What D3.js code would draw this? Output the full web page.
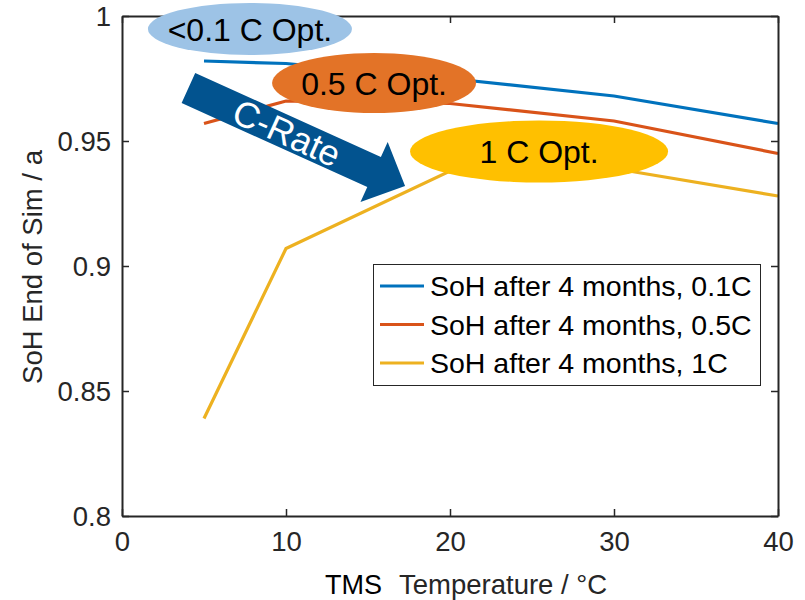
<!DOCTYPE html>
<html>
<head>
<meta charset="utf-8">
<script src="https://cdnjs.cloudflare.com/ajax/libs/d3/7.8.5/d3.min.js"></script>
<style>
  body { margin: 0; background: #fff; }
  svg { font-family: "Liberation Sans", Arial, sans-serif; }
</style>
</head>
<body>
<script>
// data
var temps = [5, 10, 20, 30, 40];
var soh01 = [0.982, 0.981, 0.975, 0.968, 0.957];
var soh05 = [0.957, 0.966, 0.965, 0.958, 0.945];
var soh1  = [0.839, 0.907, 0.938, 0.939, 0.928];

var seriesNames = ["SoH after 4 months, 0.1C", "SoH after 4 months, 0.5C", "SoH after 4 months, 1C"];
var xTicks = [0, 10, 20, 30, 40];
var yTicks = [0.8, 0.85, 0.9, 0.95, 1];

var w = 805, h = 600;
var pLeft = 122, pRight = 778, pTop = 16, pBottom = 516;
var colors = ["#0072bd", "#d95319", "#edb120"];

var svg = d3.select("body").append("svg")
    .attr("width", w)
    .attr("height", h);

var x = d3.scaleLinear().domain([0, 40]).range([pLeft, pRight]);
var y = d3.scaleLinear().domain([0.8, 1]).range([pBottom, pTop]);

// lines
var series = [soh01, soh05, soh1];
var line = d3.line()
    .x(function(d, i) { return x(temps[i]); })
    .y(function(d) { return y(d); });

svg.selectAll("path.series")
    .data(series)
    .enter()
    .append("path")
    .attr("class", "series")
    .attr("d", line)
    .attr("fill", "none")
    .attr("stroke", function(d, i) { return colors[i]; })
    .attr("stroke-width", 3.2);

// axes (box with inward ticks)
var tickFmt = function(d) { return d3.format("")(d); };
var axisCol = "#262626";

var gx = svg.append("g").attr("transform", "translate(0," + pBottom + ")")
    .call(d3.axisBottom(x).tickValues(xTicks).tickSizeInner(-7).tickSizeOuter(0).tickPadding(17));
var gy = svg.append("g").attr("transform", "translate(" + pLeft + ",0)")
    .call(d3.axisLeft(y).tickValues(yTicks).tickFormat(tickFmt).tickSizeInner(-7).tickSizeOuter(0).tickPadding(11));
var gxt = svg.append("g").attr("transform", "translate(0," + pTop + ")")
    .call(d3.axisTop(x).tickValues(xTicks).tickSizeInner(-7).tickSizeOuter(0).tickFormat(""));
var gyr = svg.append("g").attr("transform", "translate(" + pRight + ",0)")
    .call(d3.axisRight(y).tickValues(yTicks).tickSizeInner(-7).tickSizeOuter(0).tickFormat(""));

[gx, gy, gxt, gyr].forEach(function(g) {
    g.select(".domain").attr("stroke", axisCol).attr("stroke-width", 2);
    g.selectAll(".tick line").attr("stroke", axisCol).attr("stroke-width", 1.5);
    g.selectAll(".tick text")
        .attr("font-family", "Liberation Sans, Arial, sans-serif")
        .attr("font-size", "27.5px")
        .attr("fill", axisCol);
});
gx.selectAll(".tick text").attr("dy", "0.66em");
gy.selectAll(".tick text").attr("dy", "0.36em");

// axis titles
svg.append("text")
    .attr("transform", "translate(42," + ((pTop + pBottom) / 2 + 1) + ") rotate(-90)")
    .attr("text-anchor", "middle")
    .attr("font-size", "27.5px")
    .attr("fill", axisCol)
    .text("SoH End of Sim / a");

svg.append("text")
    .attr("x", 325)
    .attr("y", 594)
    .attr("font-size", "27px")
    .attr("fill", "#000")
    .text("TMS");
svg.append("text")
    .attr("x", 399)
    .attr("y", 594)
    .attr("font-size", "27.5px")
    .attr("fill", axisCol)
    .text("Temperature / °C");

// ellipses with labels
var ellipses = [
    { cx: 7.8,  cy: 0.9948, rx: 102, ry: 26, fill: "#9dc3e6", label: "<0.1 C Opt." },
    { cx: 15.37, cy: 0.9732, rx: 102, ry: 30, fill: "#e37327", label: "0.5 C Opt." },
    { cx: 25.43, cy: 0.9458, rx: 129, ry: 31, fill: "#ffc000", label: "1 C Opt." }
];

svg.selectAll("ellipse")
    .data(ellipses)
    .enter()
    .append("ellipse")
    .attr("cx", function(d) { return x(d.cx); })
    .attr("cy", function(d) { return y(d.cy); })
    .attr("rx", function(d) { return d.rx; })
    .attr("ry", function(d) { return d.ry; })
    .attr("fill", function(d) { return d.fill; });

svg.selectAll("text.elab")
    .data(ellipses)
    .enter()
    .append("text")
    .attr("class", "elab")
    .attr("x", function(d) { return x(d.cx); })
    .attr("y", function(d) { return y(d.cy); })
    .attr("dy", "0.36em")
    .attr("text-anchor", "middle")
    .attr("font-size", "32px")
    .attr("fill", "#000")
    .text(function(d) { return d.label; });

// C-Rate arrow
var a0 = [x(4.05), y(0.9712)], a1 = [x(17.26), y(0.932)];
var dx = a1[0] - a0[0], dy = a1[1] - a0[1];
var len = Math.sqrt(dx * dx + dy * dy);
var ang = Math.atan2(dy, dx) * 180 / Math.PI;
var sw = 16.5, hw = 33, hl = 34;

var arrow = svg.append("g")
    .attr("transform", "translate(" + a0[0] + "," + a0[1] + ") rotate(" + ang + ")");
arrow.append("path")
    .attr("d", "M0," + (-sw) + "L" + (len - hl) + "," + (-sw) + "L" + (len - hl) + "," + (-hw) +
        "L" + len + ",0L" + (len - hl) + "," + hw + "L" + (len - hl) + "," + sw + "L0," + sw + "Z")
    .attr("fill", "#02538f");
arrow.append("text")
    .attr("x", len * 0.455)
    .attr("y", 0)
    .attr("dy", "0.36em")
    .attr("text-anchor", "middle")
    .attr("font-size", "36px")
    .attr("fill", "#fff")
    .text("C-Rate");

// legend
var legend = svg.append("g");
legend.append("rect")
    .attr("x", 373.5).attr("y", 264.5)
    .attr("width", 387).attr("height", 121)
    .attr("fill", "#fff")
    .attr("stroke", "#262626")
    .attr("stroke-width", 1);

var items = legend.selectAll("g.item")
    .data(seriesNames)
    .enter()
    .append("g")
    .attr("class", "item")
    .attr("transform", function(d, i) { return "translate(0," + (286 + i * 38.5) + ")"; });
items.append("line")
    .attr("x1", 380).attr("x2", 424)
    .attr("stroke", function(d, i) { return colors[i]; })
    .attr("stroke-width", 3.2);
items.append("text")
    .attr("x", 430)
    .attr("dy", "0.36em")
    .attr("font-size", "28.5px")
    .attr("fill", "#000")
    .text(function(d) { return d; });
</script>
</body>
</html>
